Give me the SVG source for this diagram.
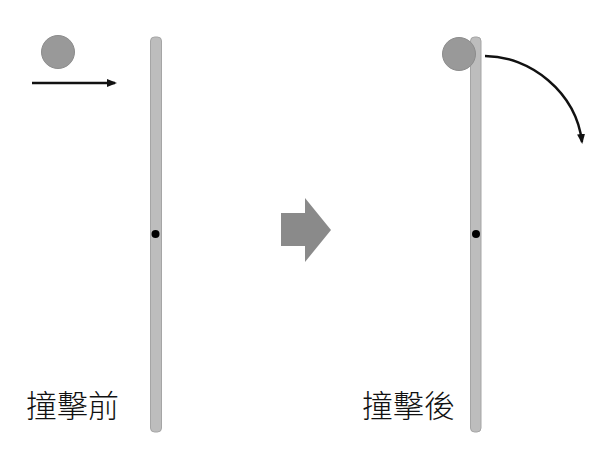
<svg xmlns="http://www.w3.org/2000/svg" width="613" height="458" viewBox="0 0 613 458">
<defs>
<style>
.bar{fill:#bdbdbd;stroke:#a5a5a5;stroke-width:1}
.ball{fill:#999;stroke:#8c8c8c;stroke-width:1}
.pivot{fill:#000}
.line{fill:none;stroke:#111;stroke-width:2.4}
.lbl{font-family:"Noto Sans CJK TC","Noto Sans CJK SC",sans-serif;font-size:31px;font-weight:300;fill:#111}
</style>
<marker id="ah" markerWidth="10" markerHeight="8" refX="8" refY="4" orient="auto" markerUnits="userSpaceOnUse">
<path d="M0,0 L10,4 L0,8 Z" fill="#111"/>
</marker>
</defs>
<rect width="613" height="458" fill="#fff"/>
<g id="before">
<rect class="bar" x="150.5" y="37" width="11" height="395" rx="4"/>
<circle class="pivot" cx="155.5" cy="234" r="4"/>
<circle class="ball" cx="58" cy="52" r="16.5"/>
<text class="lbl" x="26" y="417">撞擊前</text>
</g>
<g id="after">
<rect class="bar" x="470.5" y="37" width="10.5" height="395" rx="4"/>
<circle class="pivot" cx="476" cy="234" r="4"/>
<circle class="ball" cx="459" cy="54" r="16.5"/>
<text class="lbl" x="362" y="417">撞擊後</text>
</g>
<g id="transition">
<path d="M281,213 H305 V198 L331,230 L305,262 V246 H281 Z" fill="#8a8a8a"/>
</g>
<g id="connectors">
<path class="line" d="M32,83 H115" marker-end="url(#ah)"/>
<path class="line" d="M485,56 C530,56 576,92 582,142" marker-end="url(#ah)"/>
</g>
</svg>
